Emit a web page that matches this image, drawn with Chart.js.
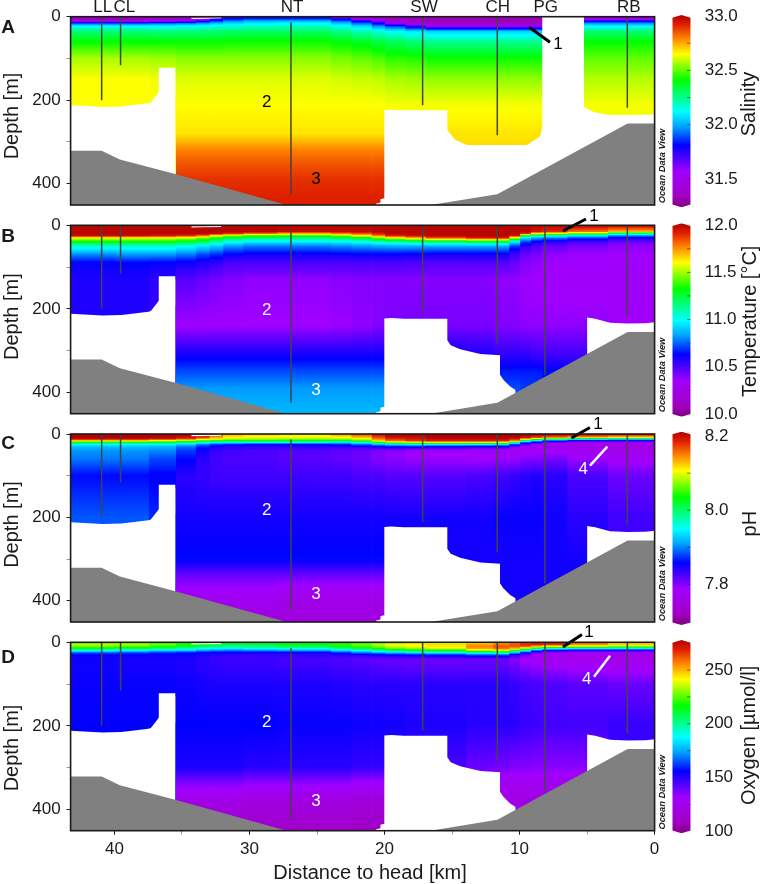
<!DOCTYPE html>
<html>
<head>
<meta charset="utf-8">
<title>Section</title>
<script src="https://cdn.jsdelivr.net/npm/chart.js@4"></script>
<style>
body { margin: 0; background: #fff; }
canvas { position: absolute; }
</style>
</head>
<body>
<script>
// distance to head [km], edges of the water columns
var columnEdges = [43.25, 40, 37.5, 35.5, 34, 33, 32, 30.5, 28, 24, 22.5, 21, 20, 18.5, 17, 14, 12, 10.8, 10, 9.2, 8.4, 6.5, 3.5, 0];

var salinityDepths = [0, 5, 10, 15, 22, 35, 60, 100, 150, 210, 280, 320, 350, 390, 451];
var salinityColumns = [
  [31.33, 31.35, 31.45, 31.85, 32.1, 32.28, 32.41, 32.57, 32.65, 32.65, 32.65, 32.65, 32.65, 32.65, 32.65],
  [31.33, 31.35, 31.45, 31.85, 32.1, 32.28, 32.41, 32.57, 32.65, 32.65, 32.65, 32.65, 32.65, 32.65, 32.65],
  [31.33, 31.36, 31.5, 31.88, 32.1, 32.27, 32.41, 32.56, 32.64, 32.65, 32.65, 32.65, 32.65, 32.65, 32.65],
  [31.34, 31.4, 31.6, 31.9, 32.12, 32.27, 32.41, 32.54, 32.62, 32.65, 32.68, 32.8, 32.85, 32.9, 32.93],
  [31.4, 31.5, 31.7, 31.95, 32.13, 32.27, 32.41, 32.54, 32.62, 32.65, 32.68, 32.8, 32.85, 32.9, 32.93],
  [31.55, 31.7, 31.85, 32.0, 32.15, 32.28, 32.41, 32.54, 32.62, 32.65, 32.68, 32.8, 32.85, 32.9, 32.93],
  [31.7, 31.8, 31.95, 32.05, 32.16, 32.29, 32.42, 32.54, 32.62, 32.65, 32.68, 32.8, 32.85, 32.9, 32.93],
  [31.75, 31.85, 32.0, 32.08, 32.17, 32.3, 32.42, 32.54, 32.62, 32.65, 32.68, 32.8, 32.85, 32.9, 32.93],
  [31.75, 31.85, 32.0, 32.1, 32.18, 32.3, 32.42, 32.54, 32.62, 32.65, 32.68, 32.8, 32.85, 32.9, 32.93],
  [31.6, 31.72, 31.9, 32.02, 32.13, 32.26, 32.4, 32.52, 32.61, 32.65, 32.68, 32.8, 32.85, 32.9, 32.93],
  [31.42, 31.52, 31.76, 31.9, 32.05, 32.21, 32.37, 32.5, 32.6, 32.65, 32.68, 32.8, 32.85, 32.9, 32.93],
  [31.36, 31.42, 31.6, 31.75, 31.95, 32.16, 32.34, 32.48, 32.59, 32.65, 32.68, 32.8, 32.85, 32.9, 32.93],
  [31.33, 31.35, 31.42, 31.55, 31.85, 32.12, 32.31, 32.45, 32.57, 32.64, 32.68, 32.69, 32.69, 32.69, 32.69],
  [31.33, 31.33, 31.36, 31.42, 31.7, 32.08, 32.28, 32.44, 32.56, 32.64, 32.68, 32.69, 32.69, 32.69, 32.69],
  [31.33, 31.33, 31.33, 31.34, 31.55, 32.05, 32.25, 32.42, 32.55, 32.64, 32.68, 32.69, 32.69, 32.69, 32.69],
  [31.33, 31.33, 31.33, 31.34, 31.55, 32.05, 32.25, 32.42, 32.55, 32.64, 32.68, 32.69, 32.69, 32.69, 32.69],
  [31.33, 31.33, 31.33, 31.34, 31.55, 32.05, 32.25, 32.42, 32.55, 32.64, 32.68, 32.69, 32.69, 32.69, 32.69],
  [31.33, 31.33, 31.33, 31.34, 31.55, 32.05, 32.25, 32.42, 32.55, 32.64, 32.68, 32.69, 32.69, 32.69, 32.69],
  [31.33, 31.33, 31.33, 31.34, 31.55, 32.05, 32.25, 32.42, 32.55, 32.64, 32.68, 32.69, 32.69, 32.69, 32.69],
  [31.33, 31.33, 31.33, 31.34, 31.55, 32.05, 32.25, 32.42, 32.55, 32.64, 32.68, 32.69, 32.69, 32.69, 32.69],
  [31.33, 31.33, 31.33, 31.34, 31.55, 32.05, 32.25, 32.42, 32.55, 32.64, 32.68, 32.69, 32.69, 32.69, 32.69],
  [31.33, 31.5, 31.75, 31.95, 32.1, 32.28, 32.41, 32.5, 32.58, 32.64, 32.64, 32.64, 32.64, 32.64, 32.64],
  [31.33, 31.5, 31.75, 31.95, 32.1, 32.28, 32.41, 32.5, 32.58, 32.64, 32.64, 32.64, 32.64, 32.64, 32.64]
];

var temperatureDepths = [0, 15, 20, 25, 30, 40, 50, 70, 90, 130, 240, 310, 350, 390, 451];
var temperatureColumns = [
  [12, 12, 12, 11.98, 11.6, 11.3, 11.05, 10.8, 10.62, 10.58, 10.58, 10.58, 10.58, 10.58, 10.58],
  [12, 12, 12, 11.98, 11.6, 11.3, 11.05, 10.82, 10.63, 10.58, 10.58, 10.58, 10.58, 10.58, 10.58],
  [12, 12, 12, 11.95, 11.6, 11.3, 11.05, 10.82, 10.62, 10.55, 10.55, 10.55, 10.55, 10.55, 10.55],
  [12, 12, 12, 11.9, 11.55, 11.25, 11.0, 10.78, 10.6, 10.48, 10.35, 10.6, 10.72, 10.82, 10.87],
  [12, 12, 12, 11.8, 11.45, 11.2, 10.95, 10.72, 10.58, 10.45, 10.35, 10.6, 10.72, 10.82, 10.87],
  [12, 12, 11.98, 11.6, 11.35, 11.1, 10.9, 10.68, 10.55, 10.42, 10.35, 10.6, 10.72, 10.82, 10.87],
  [12, 12, 11.9, 11.45, 11.25, 11.0, 10.82, 10.62, 10.5, 10.4, 10.35, 10.6, 10.72, 10.82, 10.87],
  [12, 12, 11.8, 11.35, 11.2, 10.95, 10.78, 10.6, 10.5, 10.38, 10.35, 10.6, 10.72, 10.82, 10.87],
  [12, 11.98, 11.7, 11.35, 11.18, 10.95, 10.78, 10.6, 10.5, 10.38, 10.35, 10.6, 10.72, 10.82, 10.87],
  [12, 11.98, 11.78, 11.45, 11.22, 10.97, 10.8, 10.61, 10.5, 10.39, 10.36, 10.6, 10.72, 10.82, 10.87],
  [12, 11.98, 11.85, 11.6, 11.3, 11.0, 10.82, 10.62, 10.5, 10.4, 10.38, 10.6, 10.72, 10.82, 10.87],
  [12, 12, 11.93, 11.78, 11.45, 11.05, 10.84, 10.62, 10.5, 10.4, 10.4, 10.6, 10.72, 10.82, 10.87],
  [12, 12, 12, 11.92, 11.6, 11.08, 10.85, 10.62, 10.5, 10.4, 10.41, 10.6, 10.7, 10.7, 10.7],
  [12, 12, 12, 11.97, 11.72, 11.12, 10.85, 10.61, 10.49, 10.4, 10.42, 10.6, 10.7, 10.7, 10.7],
  [12, 12, 12, 12, 11.85, 11.15, 10.85, 10.6, 10.48, 10.4, 10.42, 10.6, 10.7, 10.7, 10.7],
  [12, 12, 12, 12, 11.95, 11.2, 10.85, 10.6, 10.48, 10.4, 10.42, 10.58, 10.66, 10.7, 10.7],
  [12, 12, 12, 12, 11.95, 11.2, 10.85, 10.6, 10.48, 10.38, 10.4, 10.55, 10.66, 10.72, 10.72],
  [12, 12, 12, 11.95, 11.55, 10.95, 10.7, 10.52, 10.45, 10.38, 10.4, 10.55, 10.66, 10.72, 10.72],
  [12, 12, 11.9, 11.3, 10.95, 10.7, 10.55, 10.45, 10.4, 10.36, 10.38, 10.55, 10.66, 10.7, 10.7],
  [12, 11.95, 11.6, 11.1, 10.85, 10.6, 10.5, 10.42, 10.38, 10.35, 10.38, 10.52, 10.66, 10.7, 10.7],
  [12, 11.9, 11.55, 11.05, 10.8, 10.55, 10.45, 10.38, 10.35, 10.33, 10.38, 10.52, 10.64, 10.66, 10.66],
  [12, 11.8, 11.4, 10.95, 10.72, 10.5, 10.42, 10.36, 10.35, 10.32, 10.38, 10.52, 10.64, 10.66, 10.66],
  [12, 11.7, 11.1, 10.8, 10.6, 10.45, 10.38, 10.35, 10.33, 10.32, 10.33, 10.33, 10.33, 10.33, 10.33]
];

var phDepths = [0, 8, 12, 16, 20, 25, 30, 40, 60, 100, 200, 300, 340, 380, 451];
var phColumns = [
  [8.21, 8.21, 8.2, 8.12, 8.03, 7.95, 7.925, 7.905, 7.895, 7.86, 7.885, 7.885, 7.885, 7.885, 7.885],
  [8.21, 8.21, 8.2, 8.12, 8.03, 7.95, 7.925, 7.905, 7.895, 7.86, 7.885, 7.885, 7.885, 7.885, 7.885],
  [8.21, 8.21, 8.19, 8.1, 8.02, 7.95, 7.92, 7.9, 7.88, 7.855, 7.87, 7.87, 7.87, 7.87, 7.87],
  [8.21, 8.2, 8.17, 8.08, 8.0, 7.93, 7.895, 7.875, 7.86, 7.84, 7.85, 7.86, 7.81, 7.78, 7.75],
  [8.2, 8.18, 8.13, 8.05, 7.97, 7.9, 7.87, 7.85, 7.84, 7.835, 7.85, 7.86, 7.81, 7.78, 7.75],
  [8.17, 8.14, 8.11, 8.04, 7.95, 7.88, 7.85, 7.835, 7.83, 7.83, 7.85, 7.86, 7.81, 7.78, 7.75],
  [8.14, 8.11, 8.09, 8.03, 7.95, 7.87, 7.84, 7.83, 7.825, 7.83, 7.85, 7.86, 7.81, 7.78, 7.75],
  [8.13, 8.1, 8.09, 8.03, 7.95, 7.86, 7.84, 7.825, 7.825, 7.83, 7.85, 7.86, 7.81, 7.78, 7.75],
  [8.12, 8.1, 8.08, 8.03, 7.95, 7.86, 7.84, 7.82, 7.82, 7.83, 7.85, 7.86, 7.81, 7.77, 7.75],
  [8.14, 8.11, 8.08, 8.02, 7.94, 7.87, 7.84, 7.815, 7.815, 7.83, 7.85, 7.86, 7.81, 7.77, 7.75],
  [8.17, 8.13, 8.1, 8.05, 7.97, 7.89, 7.845, 7.81, 7.81, 7.825, 7.85, 7.86, 7.81, 7.77, 7.75],
  [8.2, 8.17, 8.15, 8.12, 8.04, 7.92, 7.855, 7.8, 7.8, 7.825, 7.85, 7.86, 7.81, 7.77, 7.75],
  [8.21, 8.2, 8.18, 8.16, 8.08, 7.94, 7.865, 7.795, 7.795, 7.82, 7.85, 7.85, 7.85, 7.85, 7.85],
  [8.21, 8.2, 8.19, 8.18, 8.1, 7.95, 7.87, 7.785, 7.79, 7.82, 7.85, 7.85, 7.85, 7.85, 7.85],
  [8.21, 8.21, 8.2, 8.19, 8.12, 7.95, 7.86, 7.78, 7.79, 7.82, 7.85, 7.85, 7.85, 7.85, 7.85],
  [8.21, 8.21, 8.2, 8.19, 8.12, 7.95, 7.85, 7.775, 7.785, 7.825, 7.85, 7.85, 7.85, 7.85, 7.85],
  [8.21, 8.21, 8.2, 8.19, 8.1, 7.94, 7.85, 7.775, 7.79, 7.83, 7.855, 7.85, 7.85, 7.85, 7.85],
  [8.21, 8.21, 8.19, 8.15, 8.0, 7.88, 7.81, 7.77, 7.79, 7.835, 7.855, 7.85, 7.85, 7.85, 7.85],
  [8.21, 8.2, 8.13, 8.0, 7.89, 7.82, 7.79, 7.77, 7.8, 7.84, 7.855, 7.85, 7.85, 7.85, 7.85],
  [8.21, 8.18, 8.07, 7.93, 7.85, 7.79, 7.78, 7.78, 7.8, 7.845, 7.855, 7.85, 7.85, 7.85, 7.85],
  [8.21, 8.16, 8.02, 7.88, 7.81, 7.775, 7.77, 7.78, 7.805, 7.84, 7.85, 7.85, 7.85, 7.85, 7.85],
  [8.21, 8.14, 7.97, 7.85, 7.79, 7.77, 7.765, 7.77, 7.79, 7.825, 7.84, 7.85, 7.85, 7.85, 7.85],
  [8.21, 8.12, 7.95, 7.85, 7.79, 7.765, 7.76, 7.765, 7.78, 7.81, 7.83, 7.83, 7.83, 7.83, 7.83]
];

var oxygenDepths = [0, 5, 10, 15, 20, 25, 30, 40, 60, 100, 200, 300, 340, 380, 451];
var oxygenColumns = [
  [226, 234, 228, 212, 190, 165, 156, 154, 154, 155, 156, 156, 156, 156, 156],
  [226, 233, 226, 207, 185, 163, 156, 153, 153, 155, 156, 156, 156, 156, 156],
  [222, 228, 220, 202, 180, 160, 155, 153, 153, 155, 156, 156, 156, 156, 156],
  [216, 220, 212, 197, 178, 158, 154, 152, 152, 154, 156, 152, 135, 122, 112],
  [212, 215, 208, 190, 172, 155, 152, 150, 150, 153, 156, 152, 135, 122, 112],
  [208, 212, 204, 186, 170, 154, 150, 148, 149, 152, 156, 152, 135, 122, 112],
  [206, 210, 202, 185, 168, 153, 149, 147, 148, 152, 156, 152, 135, 122, 112],
  [206, 212, 204, 188, 170, 153, 149, 147, 148, 152, 156, 150, 133, 120, 112],
  [210, 216, 208, 192, 172, 154, 149, 146, 147, 152, 155, 150, 133, 120, 112],
  [214, 222, 215, 200, 180, 160, 150, 144, 146, 151, 155, 150, 133, 120, 112],
  [218, 228, 222, 208, 188, 168, 152, 142, 145, 150, 154, 148, 130, 118, 110],
  [224, 234, 230, 217, 196, 173, 154, 141, 144, 150, 154, 148, 130, 118, 110],
  [230, 240, 238, 226, 205, 178, 156, 140, 143, 150, 153, 150, 150, 150, 150],
  [233, 243, 241, 231, 211, 182, 158, 140, 142, 150, 152, 148, 140, 135, 135],
  [236, 245, 244, 236, 216, 185, 160, 140, 142, 150, 152, 145, 135, 130, 130],
  [240, 252, 256, 252, 232, 195, 165, 140, 142, 150, 150, 140, 128, 125, 125],
  [245, 258, 262, 258, 236, 200, 165, 140, 142, 150, 150, 138, 125, 125, 125],
  [255, 262, 262, 250, 215, 175, 152, 135, 140, 148, 150, 136, 125, 122, 122],
  [262, 268, 262, 232, 190, 155, 140, 130, 136, 146, 148, 136, 125, 122, 122],
  [268, 270, 250, 205, 165, 140, 132, 128, 134, 145, 147, 135, 125, 122, 122],
  [270, 268, 240, 190, 152, 134, 128, 125, 132, 144, 146, 135, 125, 122, 122],
  [258, 256, 235, 185, 148, 130, 126, 124, 130, 142, 146, 135, 125, 122, 122],
  [245, 248, 228, 185, 148, 130, 125, 124, 128, 140, 148, 148, 148, 148, 148]
];

// ends and shoulders of the four colour bars, then their ticks
var salinityRange = [31.24, 31.265, 32.985, 33.01];
var temperatureRange = [9.97, 9.999, 11.991, 12.02];
var phRange = [7.69, 7.697, 8.205, 8.212];
var oxygenRange = [98.2, 100.7, 275.4, 277.9];
var salinityTicks = [31.5, 32, 32.5, 33];
var temperatureTicks = [10, 10.5, 11, 11.5, 12];
var phTicks = [7.8, 8, 8.2];
var oxygenTicks = [100, 150, 200, 250];
var salinityMinor = [31.5, 31.75, 32, 32.25, 32.5, 32.75];
var temperatureMinor = [10.25, 10.5, 10.75, 11, 11.25, 11.5, 11.75];
var phMinor = [7.8, 7.9, 8, 8.1];
var oxygenMinor = [125, 150, 175, 200, 225, 250];

// sea floor
var bottomKm = [43.25, 40.95, 39.6, 35.5, 27.25, 16.6, 11.65, 2, 0];
var bottomDepth = [321, 321, 342, 377, 451, 451, 425, 255.5, 255.5];

// blank (no data) regions, upper outline
var blankLeftKm = [43.25, 41.9, 40.9, 39.5, 38.7, 37.5, 36.9, 36.64, 36.72, 36.72, 35.3, 35.3, 35.5, 35.5];
var blankLeftDepth = [212, 214, 216, 215, 211.5, 207, 203, 199, 190, 122, 122, 190, 193, 378];
var blankMidKm = [20.66, 20.66, 20.3, 20.3, 19.97, 19.97, 20.04, 20.04, 19.5, 18.6, 16.1, 15.35, 15.35, 15.1, 14.4, 12.9, 11.45, 11.45, 11.2, 10.7, 10.29, 10.29];
var blankMidDepth = [451, 448, 445, 437, 434, 366, 366, 223, 222, 224, 224, 224, 275, 287, 297, 308, 311, 358, 370, 386, 394, 451];
var blankRightKm = [5, 5, 4.4, 3.3, 2, 0.7, 0];
var blankRightDepth = [451, 221, 224, 233, 235, 234.5, 232];
// salinity has one wider gap at PG
var blankSalinityKm = [20.66, 20.66, 20.3, 20.3, 19.97, 19.97, 20.04, 20.04, 19.5, 18.6, 16.1, 15.35, 15.35, 14.78, 13.9, 9.47, 8.49, 8.32, 8.32, 5.23, 5.23, 4.9, 4.5, 3.5, 2, 0];
var blankSalinityDepth = [451, 448, 445, 437, 434, 366, 366, 224, 223, 224, 224, 224, 271, 295, 307, 307, 287, 267, 0, 0, 215.6, 222, 228, 235, 235.5, 234];

var stationKm = [40.95, 39.55, 26.93, 17.18, 11.65, 8.12, 2.02];
var stationTop = [0, 0, 13, 0, 0, 0, 0];
var stationBottom = [200, 116, 425, 212, 284, 358, 218];

var gapKm = [34.3, 33.4, 32.1];
var gapDepth = [4, 3.5, 2.5];

// colour scale used by ODV
var rainbowStops = [0, 0.056, 0.186, 0.322, 0.418, 0.497, 0.661, 0.797, 0.881, 0.949, 1];
var rainbowColors = [[128,0,128],[160,0,192],[160,0,255],[0,0,255],[0,160,255],[0,255,255],[0,255,0],[255,255,0],[255,128,0],[224,32,0],[176,0,0]];

var fontName = '"Liberation Sans", Arial, sans-serif';
Chart.defaults.font.family = fontName;
Chart.defaults.color = '#1a1a1a';
Chart.defaults.animation = false;

function colorFor(f) {
  f = Math.max(0, Math.min(1, f));
  var i = 0;
  while (i < rainbowStops.length - 2 && f > rainbowStops[i + 1]) i++;
  var t = (f - rainbowStops[i]) / (rainbowStops[i + 1] - rainbowStops[i]);
  var a = rainbowColors[i], b = rainbowColors[i + 1];
  return 'rgb(' + Math.round(a[0] + (b[0] - a[0]) * t) + ',' + Math.round(a[1] + (b[1] - a[1]) * t) + ',' + Math.round(a[2] + (b[2] - a[2]) * t) + ')';
}

function columnGradient(chart, depths, values, range) {
  var scale = chart.scales.y;
  if (!scale || !chart.chartArea) return '#fff';
  var y0 = scale.getPixelForValue(0), y1 = scale.getPixelForValue(451);
  if (!isFinite(y0) || !isFinite(y1)) return '#fff';
  var g = chart.ctx.createLinearGradient(0, y0, 0, y1);
  var span = range[3] - range[0];
  for (var i = 0; i < depths.length - 1; i++) {
    for (var k = 0; k <= 8; k++) {
      var t = k / 8;
      var d = depths[i] + (depths[i + 1] - depths[i]) * t;
      var v = values[i] + (values[i + 1] - values[i]) * t;
      g.addColorStop(d / 451, colorFor((v - range[0]) / span));
    }
  }
  return g;
}

function toPoints(xs, ys) {
  return xs.map(function(x, i) { return {x: x, y: ys[i]}; });
}

function maskDataset(xs, ys, color) {
  return {data: toPoints(xs, ys), fill: {value: 451}, backgroundColor: color, borderWidth: 0, pointRadius: 0, tension: 0, order: 5};
}

function lineDataset(xs, ys, color, width, order) {
  return {data: toPoints(xs, ys), borderColor: color, borderWidth: width, pointRadius: 0, tension: 0, fill: false, clip: false, order: order};
}

function textPlugin(items, left, top) {
  return {
    id: 'panelText',
    afterDraw: function(chart) {
      var ctx = chart.ctx;
      items.forEach(function(it) {
        ctx.save();
        ctx.font = it.font || ('17px ' + fontName);
        ctx.fillStyle = it.color || '#1a1a1a';
        ctx.textAlign = 'center';
        ctx.textBaseline = 'middle';
        ctx.translate(it.px - left, it.py - top);
        if (it.up) ctx.rotate(-Math.PI / 2);
        ctx.fillText(it.text, 0, 0);
        ctx.restore();
      });
    }
  };
}

var framePlugin = {
  id: 'frame',
  afterDatasetsDraw: function(chart) {
    var a = chart.chartArea, ctx = chart.ctx;
    ctx.save();
    ctx.strokeStyle = '#1a1a1a';
    ctx.lineWidth = 1.6;
    ctx.strokeRect(a.left, a.top, a.right - a.left, a.bottom - a.top);
    ctx.restore();
  }
};

function makePanel(cfg) {
  var canvas = document.createElement('canvas');
  var height = cfg.bottom + (cfg.xAxis ? 53.3 : 7) - cfg.canvasTop;
  canvas.width = 672;
  canvas.height = Math.round(height);
  canvas.style.left = '0px';
  canvas.style.top = cfg.canvasTop + 'px';
  document.body.appendChild(canvas);

  var datasets = [];
  cfg.columns.forEach(function(values, i) {
    datasets.push({
      data: [{x: columnEdges[i], y: 0}, {x: columnEdges[i + 1] - 0.06, y: 0}],
      fill: {value: 451},
      borderWidth: 0,
      pointRadius: 0,
      order: 10,
      backgroundColor: function(c) { return columnGradient(c.chart, cfg.depths, values, cfg.range); }
    });
  });
  cfg.blanks.forEach(function(b) { datasets.push(maskDataset(b[0], b[1], '#ffffff')); });
  datasets.push(maskDataset(bottomKm, bottomDepth, '#808080'));
  datasets[datasets.length - 1].order = 4;
  datasets.push(lineDataset(gapKm, gapDepth, '#ffffff', 1.2, 3));
  stationKm.forEach(function(km, i) {
    if (cfg.noPG && i == 5) return;
    datasets.push(lineDataset([km, km], [stationTop[i], stationBottom[i]], '#444444', 1.5, 2));
  });
  cfg.arrows.forEach(function(a) {
    datasets.push(lineDataset(a[0], a[1], a[2], a[3], 1));
  });

  var chart = new Chart(canvas, {
    type: 'line',
    data: {datasets: datasets},
    plugins: [framePlugin, textPlugin(cfg.texts, 0, cfg.canvasTop)],
    options: {
      responsive: false,
      layout: {padding: {left: 0, right: 672 - 654.6, top: cfg.top - cfg.canvasTop, bottom: cfg.xAxis ? 0 : canvas.height + cfg.canvasTop - cfg.bottom}},
      plugins: {legend: {display: false}, tooltip: {enabled: false}},
      scales: {
        x: {
          type: 'linear',
          min: 0,
          max: 43.25,
          reverse: true,
          display: !!cfg.xAxis,
          afterBuildTicks: function(s) { s.ticks = [40, 35, 30, 25, 20, 15, 10, 5, 0].map(function(v) { return {value: v}; }); },
          afterFit: function(s) { if (cfg.xAxis) s.height = canvas.height + cfg.canvasTop - cfg.bottom; },
          border: {display: false},
          grid: {drawOnChartArea: false, tickLength: 4, color: function(c) { return c.tick && c.tick.value % 10 == 0 ? '#1a1a1a' : '#999999'; }},
          ticks: {font: {size: 17}, padding: 4, maxRotation: 0, autoSkip: false, callback: function(v) { return v % 10 == 0 ? String(v) : ''; }}
        },
        y: {
          min: 0,
          max: 451,
          reverse: true,
          afterBuildTicks: function(s) { s.ticks = [0, 100, 200, 300, 400].map(function(v) { return {value: v}; }); },
          afterFit: function(s) { s.width = 70.6; s.paddingTop = 0; s.paddingBottom = 0; },
          border: {display: false},
          grid: {drawOnChartArea: false, tickLength: 4, color: function(c) { return c.tick && c.tick.value % 200 == 0 ? '#1a1a1a' : '#999999'; }},
          ticks: {font: {size: 17}, padding: 6, autoSkip: false, callback: function(v) { return v % 200 == 0 ? String(v) : ''; }}
        }
      }
    }
  });
  chart.update();
}

function makeColorBar(cfg) {
  var canvas = document.createElement('canvas');
  canvas.width = 100;
  canvas.height = Math.round(cfg.barBottom + 25 - cfg.canvasTop);
  canvas.style.left = '662px';
  canvas.style.top = cfg.canvasTop + 'px';
  document.body.appendChild(canvas);
  var r = cfg.range;
  var minorPoints = [];
  cfg.minor.forEach(function(v) {
    minorPoints.push({x: 0.8, y: v}, {x: 1, y: v}, {x: 1, y: null});
  });
  var chart = new Chart(canvas, {
    type: 'line',
    data: {datasets: [
      {
        data: minorPoints,
        borderColor: 'rgba(60,50,0,0.65)',
        borderWidth: 1,
        pointRadius: 0,
        spanGaps: false,
        order: 1
      },
      {
        data: toPoints([0, 0, 0.5, 1, 1, 0.5, 0], [r[1], r[2], r[3], r[2], r[1], r[0], r[1]]),
        fill: 'shape',
        borderWidth: 0,
        pointRadius: 0,
        tension: 0,
        order: 2,
        backgroundColor: function(c) {
          var s = c.chart.scales.y;
          if (!s || !c.chart.chartArea) return '#fff';
          var y0 = s.getPixelForValue(r[0]), y1 = s.getPixelForValue(r[3]);
          if (!isFinite(y0) || !isFinite(y1)) return '#fff';
          var g = c.chart.ctx.createLinearGradient(0, y0, 0, y1);
          for (var i = 0; i < rainbowStops.length; i++) g.addColorStop(rainbowStops[i], colorFor(rainbowStops[i]));
          return g;
        }
      }
    ]},
    plugins: [textPlugin(cfg.texts, 662, cfg.canvasTop)],
    options: {
      responsive: false,
      layout: {padding: {left: 672.3 - 662, right: 0, top: cfg.barTop - cfg.canvasTop, bottom: canvas.height + cfg.canvasTop - cfg.barBottom}},
      plugins: {legend: {display: false}, tooltip: {enabled: false}},
      scales: {
        x: {type: 'linear', min: 0, max: 1, display: false},
        y: {
          position: 'right',
          min: r[0],
          max: r[3],
          afterBuildTicks: function(s) { s.ticks = cfg.ticks.map(function(v) { return {value: v}; }); },
          afterFit: function(s) { s.width = 762 - 690.7; s.paddingTop = 0; s.paddingBottom = 0; },
          border: {display: false},
          grid: {display: false},
          ticks: {font: {size: 17}, padding: 6, autoSkip: false, callback: function(v) { return v.toFixed(cfg.digits); }}
        }
      }
    }
  });
  chart.update();
}

var titleFont = '20px ' + fontName;
var letterFont = 'bold 19px ' + fontName;
var odvFont = 'italic bold 9.3px ' + fontName;

makePanel({
  canvasTop: 0, top: 16.7, bottom: 205,
  depths: salinityDepths, columns: salinityColumns, range: salinityRange,
  blanks: [[blankLeftKm, blankLeftDepth], [blankSalinityKm, blankSalinityDepth]],
  noPG: true,
  arrows: [[[9.28, 7.75], [25.4, 61.3], '#000000', 3]],
  texts: [
    {text: 'A', px: 8, py: 28, font: letterFont},
    {text: 'Depth [m]', px: 12, py: 116, font: titleFont, up: true},
    {text: 'LL', px: 102.7, py: 7}, {text: 'CL', px: 124.3, py: 7}, {text: 'NT', px: 292, py: 7},
    {text: 'SW', px: 424, py: 7}, {text: 'CH', px: 497.7, py: 7}, {text: 'PG', px: 545.7, py: 7}, {text: 'RB', px: 628.7, py: 7},
    {text: '2', px: 266.7, py: 102.3, color: '#000'}, {text: '3', px: 316, py: 179, color: '#000'},
    {text: '1', px: 558, py: 44, color: '#000'},
    {text: 'Ocean Data View', px: 662.3, py: 166, font: odvFont, up: true}
  ]
});

makePanel({
  canvasTop: 201, top: 225.3, bottom: 413.7,
  depths: temperatureDepths, columns: temperatureColumns, range: temperatureRange,
  blanks: [[blankLeftKm, blankLeftDepth], [blankMidKm, blankMidDepth], [blankRightKm, blankRightDepth]],
  arrows: [[[6.79, 5.08], [13.7, -15.1], '#000000', 3]],
  texts: [
    {text: 'B', px: 8, py: 237, font: letterFont},
    {text: 'Depth [m]', px: 12, py: 316.6, font: titleFont, up: true},
    {text: '2', px: 266.7, py: 310.7, color: '#fff'}, {text: '3', px: 316, py: 390, color: '#fff'},
    {text: '1', px: 594, py: 216, color: '#000'},
    {text: 'Ocean Data View', px: 662.3, py: 375, font: odvFont, up: true}
  ]
});

makePanel({
  canvasTop: 410, top: 434, bottom: 622,
  depths: phDepths, columns: phColumns, range: phRange,
  blanks: [[blankLeftKm, blankLeftDepth], [blankMidKm, blankMidDepth], [blankRightKm, blankRightDepth]],
  arrows: [[[6.16, 4.79], [9.6, -15.6], '#000000', 3], [[4.79, 3.5], [75.9, 30.4], '#ffffff', 2.5]],
  texts: [
    {text: 'C', px: 8, py: 444, font: letterFont},
    {text: 'Depth [m]', px: 12, py: 524.5, font: titleFont, up: true},
    {text: '2', px: 266.7, py: 510.3, color: '#fff'}, {text: '3', px: 316, py: 594, color: '#fff'},
    {text: '1', px: 598, py: 424, color: '#000'}, {text: '4', px: 583.3, py: 469, color: '#fff'},
    {text: 'Ocean Data View', px: 662.3, py: 584, font: odvFont, up: true}
  ]
});

makePanel({
  canvasTop: 618, top: 642.3, bottom: 830.7, xAxis: true,
  depths: oxygenDepths, columns: oxygenColumns, range: oxygenRange,
  blanks: [[blankLeftKm, blankLeftDepth], [blankMidKm, blankMidDepth], [blankRightKm, blankRightDepth]],
  arrows: [[[6.79, 5.38], [11.3, -18.7], '#000000', 3], [[4.49, 3.3], [82.4, 32.1], '#ffffff', 2.5]],
  texts: [
    {text: 'D', px: 8, py: 658, font: letterFont},
    {text: 'Depth [m]', px: 12, py: 748, font: titleFont, up: true},
    {text: '2', px: 266.7, py: 722.7, color: '#fff'}, {text: '3', px: 316, py: 801.7, color: '#fff'},
    {text: '1', px: 589, py: 632, color: '#000'}, {text: '4', px: 586.7, py: 679, color: '#fff'},
    {text: 'Ocean Data View', px: 662.3, py: 792.3, font: odvFont, up: true},
    {text: 'Distance to head [km]', px: 370, py: 873, font: titleFont}
  ]
});

makeColorBar({canvasTop: 0, barTop: 15, barBottom: 207.3, range: salinityRange, ticks: salinityTicks, minor: salinityMinor, digits: 1,
  texts: [{text: 'Salinity', px: 749, py: 104, font: titleFont, up: true}]});
makeColorBar({canvasTop: 201, barTop: 223.3, barBottom: 416.7, range: temperatureRange, ticks: temperatureTicks, minor: temperatureMinor, digits: 1,
  texts: [{text: 'Temperature [°C]', px: 750, py: 321.3, font: titleFont, up: true}]});
makeColorBar({canvasTop: 410, barTop: 431.7, barBottom: 625, range: phRange, ticks: phTicks, minor: phMinor, digits: 1,
  texts: [{text: 'pH', px: 750.7, py: 523.7, font: titleFont, up: true}]});
makeColorBar({canvasTop: 618, barTop: 640, barBottom: 833.3, range: oxygenRange, ticks: oxygenTicks, minor: oxygenMinor, digits: 0,
  texts: [{text: 'Oxygen [µmol/l]', px: 749, py: 735.3, font: titleFont, up: true}]});
</script>
</body>
</html>
